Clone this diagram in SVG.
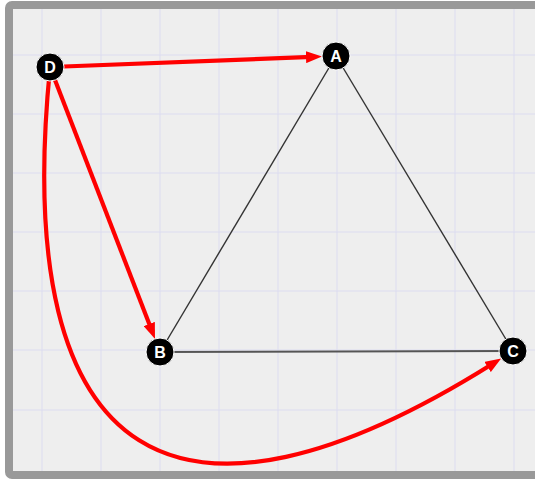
<svg xmlns="http://www.w3.org/2000/svg" width="535" height="479" viewBox="0 0 535 479">
<style>
.grid line{stroke:#dcdcf0;stroke-width:1}
.edge{stroke:#333;stroke-width:1.4;fill:none}
.arc{stroke:#f00;stroke-width:4.2;fill:none;marker-end:url(#ah)}
.node circle{fill:#000;stroke:#fff;stroke-width:1}
.node text{fill:#fff;font-family:"Liberation Sans",Arial,sans-serif;font-weight:bold;font-size:16px;text-anchor:middle;dominant-baseline:central}
</style>
<defs>
<marker id="ah" markerUnits="userSpaceOnUse" viewBox="0 0 16 12" markerWidth="16" markerHeight="12" refX="6" refY="6" orient="auto">
<path d="M0,0 L16,6 L0,12 z" fill="#f00"/>
</marker>
</defs>
<rect x="0" y="0" width="535" height="479" fill="#fff"/>
<rect x="9" y="5" width="560" height="470" rx="3" fill="#eeeeee" stroke="#999" stroke-width="8"/>
<g class="grid">
<line x1="42" y1="9" x2="42" y2="471"/>
<line x1="101" y1="9" x2="101" y2="471"/>
<line x1="160" y1="9" x2="160" y2="471"/>
<line x1="219" y1="9" x2="219" y2="471"/>
<line x1="278" y1="9" x2="278" y2="471"/>
<line x1="337" y1="9" x2="337" y2="471"/>
<line x1="396" y1="9" x2="396" y2="471"/>
<line x1="455" y1="9" x2="455" y2="471"/>
<line x1="514" y1="9" x2="514" y2="471"/>
<line x1="13" y1="55" x2="535" y2="55"/>
<line x1="13" y1="114" x2="535" y2="114"/>
<line x1="13" y1="173" x2="535" y2="173"/>
<line x1="13" y1="232" x2="535" y2="232"/>
<line x1="13" y1="291" x2="535" y2="291"/>
<line x1="13" y1="350" x2="535" y2="350"/>
<line x1="13" y1="410" x2="535" y2="410"/>
</g>
<g id="connectors">
<line class="edge" x1="336" y1="56" x2="160" y2="352"/>
<line class="edge" x1="336" y1="56" x2="513" y2="351"/>
<line class="edge" x1="160" y1="352" x2="513" y2="351" style="stroke:#555;stroke-width:1.8"/>
<line class="arc" x1="64" y1="66.5" x2="312" y2="56.9"/>
<line class="arc" x1="55" y1="80" x2="151.4" y2="329.6"/>
<path class="arc" d="M50 68 C10 470,180 560,492.7 363.8"/>
</g>
<g id="node-D" class="node"><circle cx="50" cy="67" r="14"/><text x="50" y="67">D</text></g>
<g id="node-A" class="node"><circle cx="336" cy="56" r="14"/><text x="336" y="56">A</text></g>
<g id="node-B" class="node"><circle cx="160" cy="352" r="14"/><text x="160" y="352">B</text></g>
<g id="node-C" class="node"><circle cx="513" cy="351" r="14"/><text x="513" y="351">C</text></g>
</svg>
